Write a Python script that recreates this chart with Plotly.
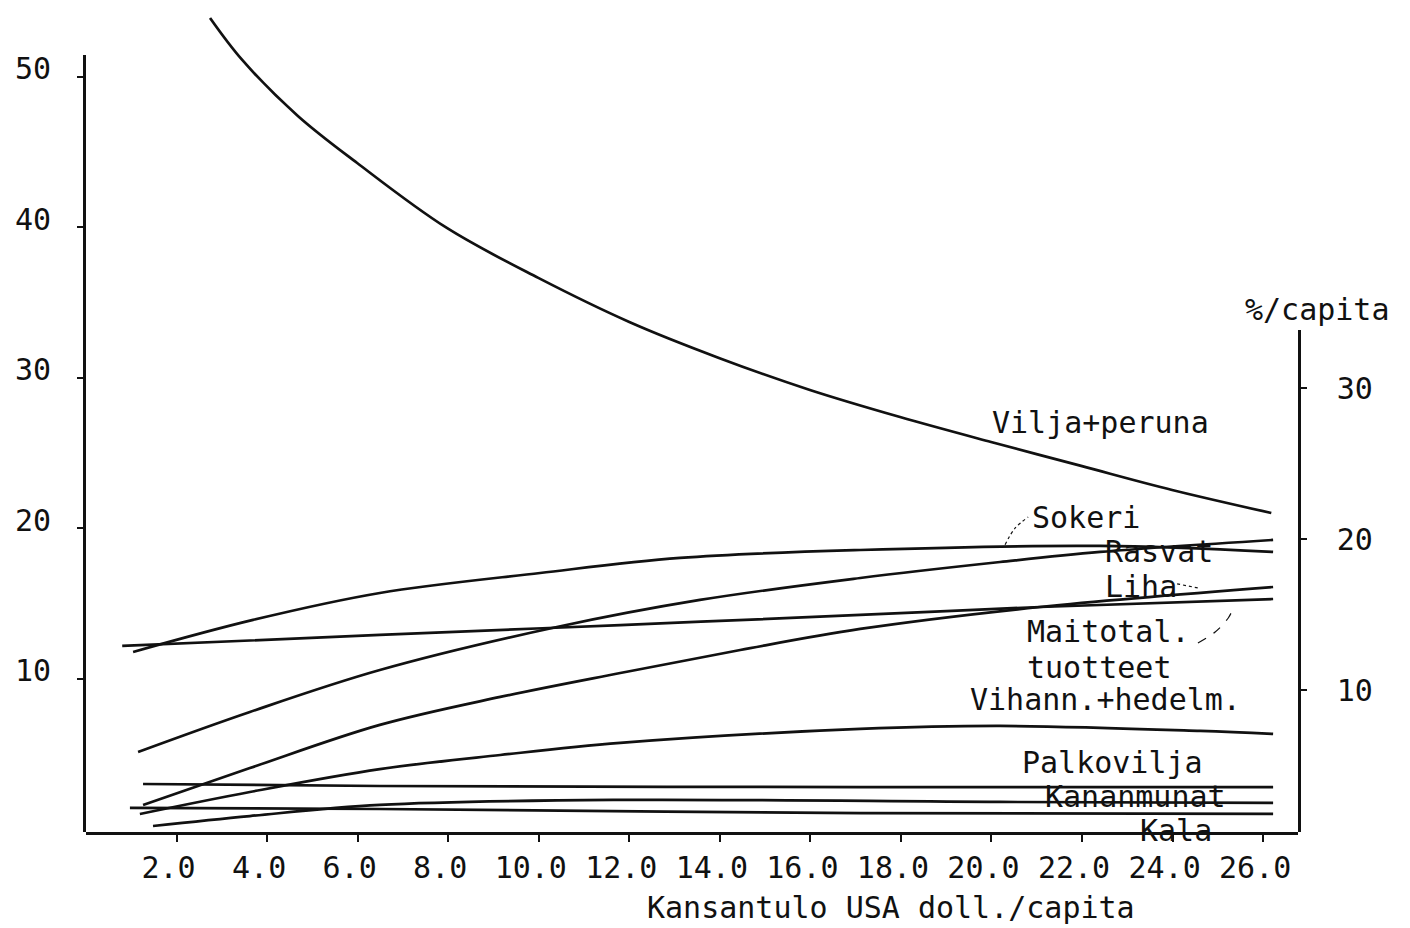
import plotly.graph_objects as go

# Per-capita national income (USA dollars, hundreds) and share of each food group
vilja_x = [2.74, 3.45, 4.68, 5.99, 7.97, 9.99, 12.0, 13.98, 15.99, 17.98, 19.99, 21.98, 23.99, 26.18]
vilja_y = [53.92, 51.13, 47.41, 44.28, 39.96, 36.64, 33.71, 31.32, 29.19, 27.39, 25.73, 24.14, 22.54, 21.01]

sokeri_x = [1.04, 3.69, 6.49, 10.03, 13.12, 17.1, 22.4, 26.22]
sokeri_y = [11.77, 13.9, 15.69, 17.02, 18.02, 18.55, 18.82, 18.42]

rasvat_x = [1.15, 3.62, 6.49, 10.4, 13.56, 17.1, 20.19, 22.4, 26.22]
rasvat_y = [5.12, 7.78, 10.57, 13.43, 15.23, 16.69, 17.75, 18.42, 19.22]

liha_x = [1.26, 3.62, 6.49, 9.15, 11.8, 14.45, 17.1, 21.07, 26.22]
liha_y = [1.6, 4.05, 6.92, 8.78, 10.37, 11.9, 13.3, 14.76, 16.09]

maito_x = [0.8, 6.49, 11.8, 17.1, 21.07, 26.22]
maito_y = [12.17, 12.9, 13.56, 14.23, 14.76, 15.29]

vihann_x = [1.19, 3.62, 6.49, 9.15, 11.8, 17.1, 20.19, 24.61, 26.22]
vihann_y = [1.0, 2.46, 3.98, 4.92, 5.72, 6.65, 6.85, 6.52, 6.32]

palko_x = [1.26, 6.49, 17.1, 26.22]
palko_y = [2.99, 2.86, 2.79, 2.79]

kanan_x = [1.48, 3.62, 6.49, 11.64, 20.19, 26.22]
kanan_y = [0.2, 0.86, 1.6, 1.93, 1.8, 1.73]

kala_x = [0.97, 6.49, 17.1, 26.22]
kala_y = [1.4, 1.33, 1.06, 1.0]

# Leader lines from labels to their curves
sokeri_leader_x = [20.3, 20.52, 20.81]
sokeri_leader_y = [18.9, 20.0, 20.74]
liha_leader_x = [24.1, 24.6]
liha_leader_y = [16.3, 16.0]
maito_leader_x = [24.56, 24.94, 25.23, 25.34]
maito_leader_y = [12.37, 13.1, 14.03, 14.69]

x_ticks = [2, 4, 6, 8, 10, 12, 14, 16, 18, 20, 22, 24, 26]
x_tick_text = ["2.0", "4.0", "6.0", "8.0", "10.0", "12.0", "14.0", "16.0",
               "18.0", "20.0", "22.0", "24.0", "26.0"]
y_ticks = [10, 20, 30, 40, 50]
y2_ticks = [10, 20, 30]

# Curve labels: text, left x, middle y
labels = [
    ("Vilja+peruna", 19.97, 27.06),
    ("Sokeri", 20.85, 20.74),
    ("Rasvat", 22.47, 18.42),
    ("Liha", 22.47, 16.09),
    ("Maitotal.", 20.74, 13.1),
    ("tuotteet", 20.74, 10.77),
    ("Vihann.+hedelm.", 19.48, 8.58),
    ("Palkovilja", 20.63, 4.45),
    ("Kananmunat", 21.14, 2.13),
    ("Kala", 23.24, -0.07),
]

FONT = "DejaVu Sans Mono"
INK = "#111111"
FS = 30

fig = go.Figure()

series = [
    ("Vilja+peruna", vilja_x, vilja_y),
    ("Sokeri", sokeri_x, sokeri_y),
    ("Rasvat", rasvat_x, rasvat_y),
    ("Liha", liha_x, liha_y),
    ("Maitotal. tuotteet", maito_x, maito_y),
    ("Vihann.+hedelm.", vihann_x, vihann_y),
    ("Palkovilja", palko_x, palko_y),
    ("Kananmunat", kanan_x, kanan_y),
    ("Kala", kala_x, kala_y),
]
for name, xs, ys in series:
    fig.add_trace(go.Scatter(
        x=xs, y=ys, name=name, mode="lines",
        line=dict(color=INK, width=2.7, shape="spline", smoothing=1.0),
        showlegend=False, hoverinfo="skip",
    ))

for xs, ys, dash in [(sokeri_leader_x, sokeri_leader_y, "dot"),
                     (liha_leader_x, liha_leader_y, "dot"),
                     (maito_leader_x, maito_leader_y, "dash")]:
    fig.add_trace(go.Scatter(
        x=xs, y=ys, mode="lines",
        line=dict(color=INK, width=1.2, dash=dash, shape="spline"),
        showlegend=False, hoverinfo="skip",
    ))

# Empty traces so the right-hand scale and the left axis line get drawn
fig.add_trace(go.Scatter(x=[], y=[], yaxis="y2", showlegend=False, hoverinfo="skip"))
fig.add_trace(go.Scatter(x=[], y=[], yaxis="y3", showlegend=False, hoverinfo="skip"))

for text, lx, ly in labels:
    fig.add_annotation(x=lx, y=ly, xref="x", yref="y", text=text,
                       showarrow=False, xanchor="left", yanchor="middle",
                       font=dict(family=FONT, size=FS, color=INK))

fig.add_annotation(x=0.664, y=-0.093, xref="paper", yref="paper",
                   text="Kansantulo USA doll./capita", showarrow=False,
                   xanchor="center", yanchor="middle",
                   font=dict(family=FONT, size=FS, color=INK))
fig.add_annotation(x=1.0165, y=0.639, xref="paper", yref="paper", text="%/capita",
                   showarrow=False, xanchor="center", yanchor="middle",
                   font=dict(family=FONT, size=FS, color=INK))

tick_font = dict(family=FONT, size=FS, color=INK)

fig.update_layout(
    width=1410, height=928,
    margin=dict(l=86, r=112, t=15, b=96),
    paper_bgcolor="white", plot_bgcolor="rgba(0,0,0,0)",
    xaxis=dict(
        range=[0, 26.77], tickvals=x_ticks, ticktext=x_tick_text,
        showgrid=False, zeroline=False, showline=True, linecolor=INK,
        linewidth=2.5, ticks="outside", ticklen=7, tickwidth=2,
        tickcolor=INK, tickfont=tick_font, ticklabelshift=-8,
        ticklabelstandoff=0,
    ),
    # data scale, left ticks and labels
    yaxis=dict(
        range=[-0.2, 54.12], tickvals=y_ticks,
        showgrid=False, zeroline=False, showline=False,
        ticks="outside", ticklen=8, tickwidth=2,
        tickcolor=INK, tickfont=tick_font, ticklabelshift=-8,
        ticklabelstandoff=20,
    ),
    # right-hand percentage scale
    yaxis2=dict(
        range=[0.6, 33.84], domain=[0, 0.6144], anchor="x", side="right",
        tickvals=y2_ticks, showgrid=False, zeroline=False, showline=True,
        linecolor=INK, linewidth=2.5, ticks="outside", ticklen=6,
        tickwidth=2, tickcolor=INK, tickfont=tick_font,
        ticklabelstandoff=24,
    ),
    # left axis line, same scale as yaxis but shorter
    yaxis3=dict(
        range=[-0.2, 51.46], domain=[0, 0.951], anchor="x", side="left",
        showgrid=False, zeroline=False, showline=True, linecolor=INK,
        linewidth=2.5, ticks="", showticklabels=False,
    ),
)

fig.write_html("out.html")
